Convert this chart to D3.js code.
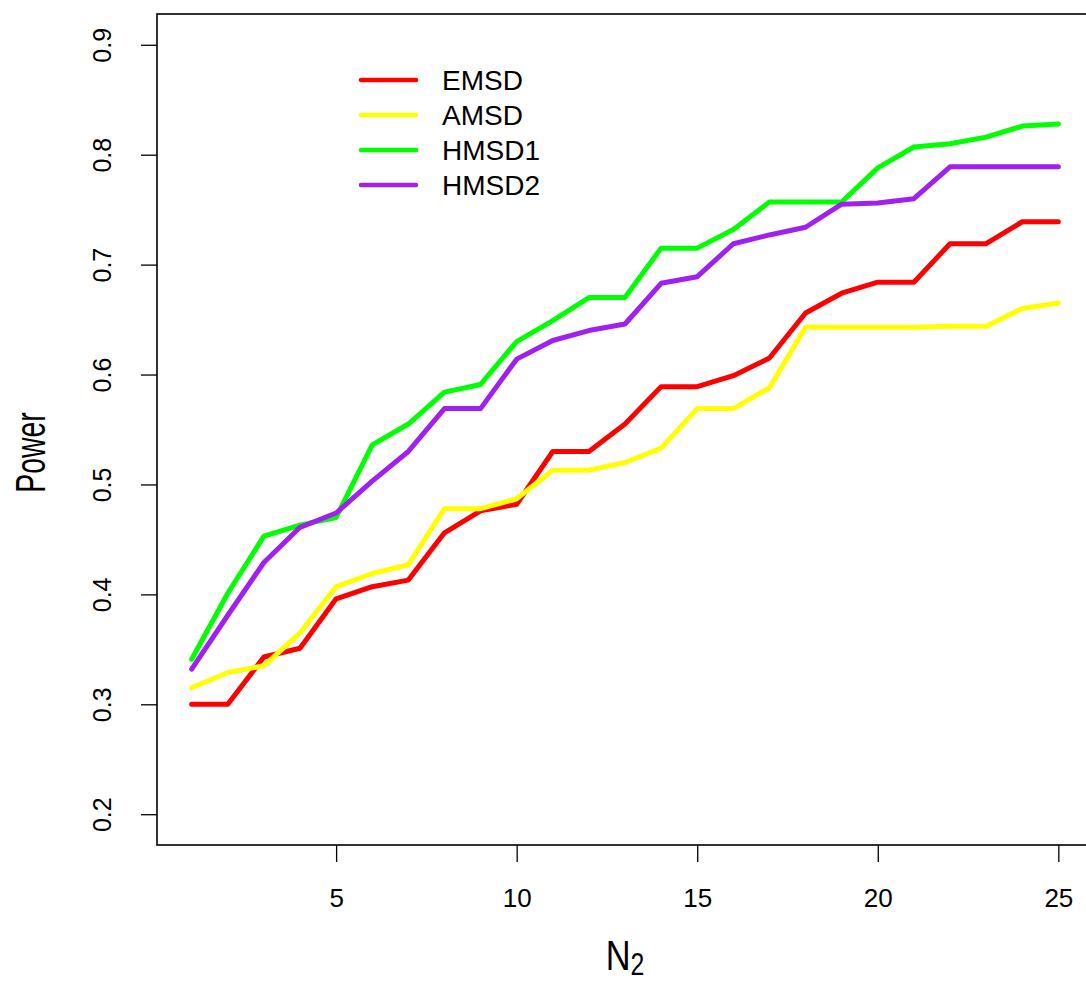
<!DOCTYPE html>
<html>
<head>
<meta charset="utf-8">
<script src="https://cdn.jsdelivr.net/npm/d3@7"></script>
<style>
  body { margin: 0; background: #fff; }
  text { font-family: "Liberation Sans", Arial, sans-serif; fill: #000; }
</style>
</head>
<body>
<div class="chart"></div>
<script>
let N2 = d3.range(1, 26);
let xTicks = [5, 10, 15, 20, 25];
let yTicks = [0.2, 0.3, 0.4, 0.5, 0.6, 0.7, 0.8, 0.9];
let seriesNames = ['EMSD', 'AMSD', 'HMSD1', 'HMSD2'];
let seriesColors = ['#ff0000', '#ffff00', '#00ff00', '#a020f0'];

let EMSD = [0.300, 0.300, 0.343, 0.351, 0.396, 0.407, 0.413, 0.456, 0.476, 0.482, 0.530, 0.530, 0.555,
            0.589, 0.589, 0.599, 0.615, 0.656, 0.674, 0.684, 0.684, 0.719, 0.719, 0.739, 0.739];
let AMSD = [0.315, 0.329, 0.335, 0.365, 0.407, 0.419, 0.427, 0.478, 0.478, 0.487, 0.513, 0.513, 0.520,
            0.533, 0.569, 0.569, 0.588, 0.643, 0.643, 0.643, 0.643, 0.644, 0.644, 0.660, 0.665];
let HMSD1 = [0.341, 0.401, 0.453, 0.463, 0.470, 0.536, 0.555, 0.584, 0.591, 0.630, 0.649, 0.670, 0.670,
             0.715, 0.715, 0.732, 0.757, 0.757, 0.757, 0.788, 0.807, 0.810, 0.816, 0.826, 0.828];
let HMSD2 = [0.332, 0.381, 0.429, 0.461, 0.474, 0.503, 0.530, 0.569, 0.569, 0.614, 0.631, 0.640, 0.646,
             0.683, 0.689, 0.719, 0.727, 0.734, 0.755, 0.756, 0.760, 0.789, 0.789, 0.789, 0.789];

let width = 1086;
let height = 982;
let plotLeft = 157, plotRight = 1093, plotTop = 14, plotBottom = 845;

let svg = d3.select('.chart')
            .append('svg')
            .attr('width', width)
            .attr('height', height);

// R style axes: 4% padding on both ends
let x = d3.scaleLinear().domain([0.04, 25.96]).range([plotLeft, plotRight]);
let y = d3.scaleLinear().domain([0.172, 0.928]).range([plotBottom, plotTop]);

let xAxis = d3.axisBottom(x).tickValues(xTicks).tickSize(17).tickPadding(45).tickFormat(d3.format('d'));
let yAxis = d3.axisLeft(y).tickValues(yTicks).tickSize(16).tickFormat(d3.format('.1f'));

let gx = svg.append('g')
            .attr('transform', 'translate(0,' + plotBottom + ')')
            .call(xAxis);
gx.select('.domain').remove();
gx.selectAll('.tick line').attr('stroke', '#000').attr('stroke-width', 1.3);
gx.selectAll('.tick text')
  .attr('font-size', 26)
  .attr('dy', '0')
  .attr('font-family', '"Liberation Sans", Arial, sans-serif');

let gy = svg.append('g')
            .attr('transform', 'translate(' + plotLeft + ',0)')
            .call(yAxis);
gy.select('.domain').remove();
gy.selectAll('.tick line').attr('stroke', '#000').attr('stroke-width', 1.3);
gy.selectAll('.tick text')
  .attr('font-size', 25)
  .attr('font-family', '"Liberation Sans", Arial, sans-serif')
  .attr('text-anchor', 'middle')
  .attr('dy', '0.35em')
  .attr('x', 0)
  .attr('transform', 'translate(-55,0) rotate(-90)');

// plot box (right edge falls outside the picture)
svg.append('rect')
   .attr('x', plotLeft)
   .attr('y', plotTop)
   .attr('width', plotRight - plotLeft)
   .attr('height', plotBottom - plotTop)
   .attr('fill', 'none')
   .attr('stroke', '#000')
   .attr('stroke-width', 1.6);

let line = d3.line()
             .x((d, i) => x(N2[i]))
             .y(d => y(d));

let allSeries = [EMSD, AMSD, HMSD1, HMSD2];
svg.selectAll('.series')
   .data(allSeries)
   .enter()
   .append('path')
   .attr('class', 'series')
   .attr('d', d => line(d))
   .attr('fill', 'none')
   .attr('stroke', (d, i) => seriesColors[i])
   .attr('stroke-width', 5)
   .attr('stroke-linejoin', 'round')
   .attr('stroke-linecap', 'round');

// legend
let legend = svg.append('g').attr('transform', 'translate(361,80)');
seriesNames.forEach((name, i) => {
  legend.append('line')
        .attr('x1', 0).attr('x2', 55)
        .attr('y1', i * 35).attr('y2', i * 35)
        .attr('stroke', seriesColors[i])
        .attr('stroke-width', 4.5)
        .attr('stroke-linecap', 'round');
  legend.append('text')
        .attr('x', 81)
        .attr('y', i * 35)
        .attr('dy', '0.36em')
        .attr('font-size', 28)
        .text(name);
});

// axis titles (drawn narrow like the reference)
let xt = svg.append('text')
            .attr('transform', 'translate(' + ((plotLeft + plotRight) / 2) + ',970) scale(0.8,1)')
            .attr('text-anchor', 'middle')
            .attr('font-size', 43);
xt.append('tspan').text('N');
xt.append('tspan').attr('font-size', 31).attr('dy', 5).text('2');

svg.append('text')
   .attr('transform', 'translate(45,' + ((plotTop + plotBottom) / 2 + 23) + ') rotate(-90) scale(0.66,1)')
   .attr('text-anchor', 'middle')
   .attr('font-size', 43)
   .text('Power');
</script>
</body>
</html>
